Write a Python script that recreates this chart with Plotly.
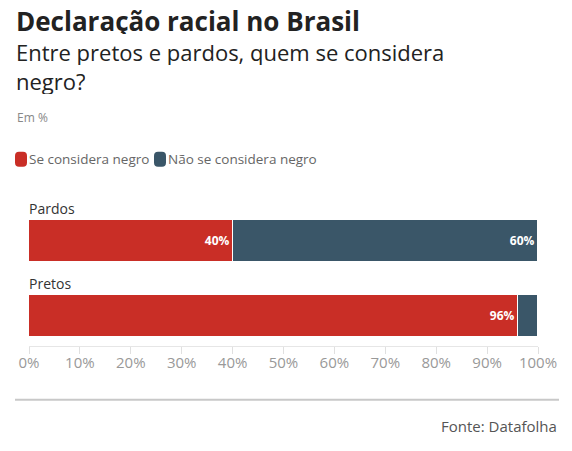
import plotly.graph_objects as go

categories = ["Pretos", "Pardos"]
se_considera = [96, 40]
nao_se_considera = [4, 60]
series_names = ["Se considera negro", "Não se considera negro"]
tick_vals = [0, 10, 20, 30, 40, 50, 60, 70, 80, 90, 100]
tick_text = [f"{v}%" for v in tick_vals]

RED = "#c92e26"
DARK = "#3a5668"
FONT = "Open Sans"

W, H = 572, 451
L, R = 29, 34
T, B = 203.5, 105
PW = W - L - R
PH = H - T - B


def px(x):
    return (x - L) / PW


def py(y):
    return (H - B - y) / PH


def labels(vals):
    return [f"{v}%" if v >= 10 else "" for v in vals]


fig = go.Figure()
ypos = [0, 1]
for name, vals, col in [(series_names[0], se_considera, RED), (series_names[1], nao_se_considera, DARK)]:
    fig.add_trace(go.Bar(
        y=ypos, x=vals, orientation="h", name=name,
        marker=dict(color=col, line=dict(color="white", width=1)),
        width=0.56,
        text=labels(vals), textposition="inside", insidetextanchor="end",
        textfont=dict(family=FONT, size=12, color="white", weight="bold"),
        cliponaxis=False, showlegend=False,
    ))

annotations = [
    dict(text="<b>Declaração racial no Brasil</b>", x=px(15), y=py(20), xanchor="left", yanchor="middle",
         height=26, borderpad=0, font=dict(family=FONT, size=26, color="#222")),
    dict(text="Entre pretos e pardos, quem se considera", x=px(15), y=py(51), xanchor="left", yanchor="middle",
         height=26, borderpad=0, font=dict(family=FONT, size=22, color="#222")),
    dict(text="negro?", x=px(15), y=py(80), xanchor="left", yanchor="middle",
         height=26, borderpad=0, font=dict(family=FONT, size=22, color="#222")),
    dict(text="Em %", x=px(15), y=py(117), xanchor="left", yanchor="middle",
         font=dict(family=FONT, size=12, color="#888")),
    dict(text=series_names[0], x=px(27), y=py(158), xanchor="left", yanchor="middle",
         font=dict(family=FONT, size=13.5, color="#666")),
    dict(text=series_names[1], x=px(166), y=py(158), xanchor="left", yanchor="middle",
         font=dict(family=FONT, size=13.5, color="#666")),
    dict(text="Fonte: Datafolha", x=px(559), y=py(426), xanchor="right", yanchor="middle",
         font=dict(family=FONT, size=15, color="#555")),
]
for i, c in enumerate(categories):
    annotations.append(dict(text=c, x=0, xref="x", y=ypos[i] + 0.28, yref="y", xanchor="left", yanchor="bottom",
                            xshift=-2, font=dict(family=FONT, size=14, color="#333")))
for a in annotations:
    a.setdefault("xref", "paper")
    a.setdefault("yref", "paper")
    a["showarrow"] = False

shapes = [
    dict(type="line", xref="paper", yref="paper", x0=px(15), x1=px(559), y0=py(400), y1=py(400),
         line=dict(color="#c8c8c8", width=2)),
]


def rounded(w, h, r):
    return (f"M {r},0 L {w-r},0 Q {w},0 {w},{r} L {w},{h-r} Q {w},{h} {w-r},{h} "
            f"L {r},{h} Q 0,{h} 0,{h-r} L 0,{r} Q 0,0 {r},0 Z")


for x0, col in [(15, RED), (154, DARK)]:
    shapes.append(dict(type="path", xref="paper", yref="paper", xsizemode="pixel", ysizemode="pixel",
                       xanchor=px(x0), yanchor=py(166), path=rounded(12, 15, 4),
                       fillcolor=col, line=dict(width=0)))

fig.update_layout(
    width=W, height=H, margin=dict(l=L, r=R, t=T, b=B),
    paper_bgcolor="white", plot_bgcolor="white",
    barmode="stack", bargap=0,
    xaxis=dict(range=[0, 100], tickvals=tick_vals, ticktext=tick_text, showgrid=False,
               ticks="outside", ticklen=7, tickcolor="#e0e0e0", tickwidth=1,
               showline=True, linecolor="#e6e6e6", linewidth=1, ticklabelstandoff=-4,
               tickfont=dict(family=FONT, size=15, color="#999"), zeroline=False, fixedrange=True),
    yaxis=dict(range=[-0.4, 1.5], showticklabels=False, showgrid=False, zeroline=False, fixedrange=True),
    annotations=annotations, shapes=shapes,
    font=dict(family=FONT),
)

fig.write_html("out.html")
